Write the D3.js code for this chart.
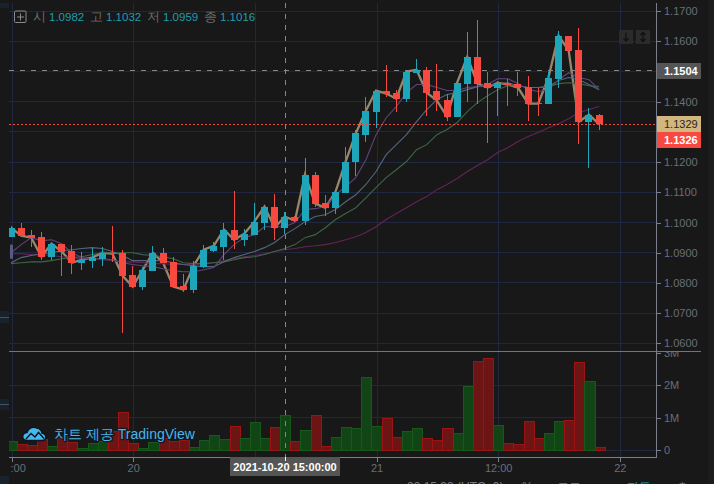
<!DOCTYPE html>
<html><head><meta charset="utf-8">
<style>
html,body{margin:0;padding:0;background:#181818;overflow:hidden}
svg{display:block}
text{font-family:"Liberation Sans",Arial,sans-serif}
</style>
<script src="https://cdn.jsdelivr.net/npm/d3@7/dist/d3.min.js"></script>
</head><body><svg id="c" width="714" height="484"></svg>
<script>
const opens=[1.0953,1.0983,1.0960,1.0953,1.0887,1.0930,1.0907,1.0867,1.0874,1.0880,1.0900,1.0900,1.0827,1.0788,1.0841,1.0900,1.0870,1.0791,1.0778,1.0854,1.0907,1.0920,1.0977,1.0943,1.0960,1.1000,1.1053,1.0983,1.1020,1.1006,1.1159,1.1066,1.1049,1.1099,1.1198,1.1291,1.1367,1.1437,1.1430,1.1410,1.1496,1.1506,1.1434,1.1407,1.1351,1.1460,1.1549,1.1463,1.1447,1.1463,1.1460,1.1450,1.1397,1.1394,1.1476,1.1619,1.1572,1.1334,1.1357];
const highs=[1.0990,1.1000,1.0977,1.0970,1.0930,1.0930,1.0927,1.0904,1.0917,1.0920,1.0987,1.0910,1.0857,1.0854,1.0923,1.0917,1.0887,1.0831,1.0874,1.0927,1.0937,1.1000,1.1106,1.0980,1.1066,1.1053,1.1096,1.1036,1.1023,1.1215,1.1169,1.1092,1.1102,1.1251,1.1308,1.1417,1.1437,1.1520,1.1440,1.1500,1.1543,1.1516,1.1526,1.1427,1.1463,1.1632,1.1672,1.1500,1.1470,1.1476,1.1500,1.1486,1.1447,1.1500,1.1635,1.1619,1.1645,1.1380,1.1361];
const lows=[1.0953,1.0953,1.0920,1.0877,1.0877,1.0824,1.0831,1.0844,1.0851,1.0857,1.0870,1.0636,1.0788,1.0778,1.0841,1.0867,1.0788,1.0771,1.0768,1.0851,1.0904,1.0877,1.0914,1.0923,1.0960,1.0977,1.0943,1.0963,1.1003,1.0993,1.1053,1.1023,1.1030,1.1099,1.1155,1.1268,1.1314,1.1414,1.1367,1.1400,1.1496,1.1354,1.1370,1.1337,1.1351,1.1400,1.1394,1.1265,1.1354,1.1387,1.1420,1.1337,1.1354,1.1394,1.1447,1.1569,1.1261,1.1179,1.1308];
const closes=[1.0983,1.0957,1.0950,1.0887,1.0930,1.0904,1.0867,1.0877,1.0884,1.0900,1.0897,1.0824,1.0788,1.0844,1.0900,1.0867,1.0788,1.0778,1.0857,1.0910,1.0923,1.0977,1.0943,1.0963,1.1003,1.1053,1.0983,1.1020,1.1006,1.1159,1.1063,1.1049,1.1102,1.1202,1.1295,1.1370,1.1437,1.1427,1.1410,1.1500,1.1506,1.1430,1.1404,1.1351,1.1463,1.1549,1.1460,1.1447,1.1463,1.1457,1.1447,1.1394,1.1394,1.1480,1.1619,1.1569,1.1334,1.1357,1.1326];
const volumes=[0.30,0.19,0.16,0.35,0.13,0.45,0.27,0.07,0.23,0.29,0.59,1.19,0.23,0.07,0.26,0.37,0.29,0.33,0.10,0.32,0.47,0.35,0.76,0.38,0.87,0.38,0.72,1.09,0.29,0.63,1.09,0.13,0.41,0.72,0.69,2.26,0.75,1.00,0.41,0.59,0.69,0.38,0.32,0.69,0.53,1.98,2.75,2.84,0.78,0.23,0.19,0.90,0.38,0.53,0.90,0.93,2.72,2.13,0.10];
const maPurple=[1.0900,1.0927,1.0950,1.0940,1.0943,1.0930,1.0900,1.0884,1.0880,1.0880,1.0877,1.0867,1.0861,1.0857,1.0854,1.0847,1.0841,1.0837,1.0837,1.0844,1.0851,1.0894,1.0927,1.0950,1.0960,1.0986,1.0986,1.0986,1.1000,1.1043,1.1046,1.1053,1.1092,1.1119,1.1149,1.1208,1.1291,1.1347,1.1384,1.1430,1.1457,1.1457,1.1447,1.1437,1.1437,1.1447,1.1450,1.1457,1.1476,1.1476,1.1460,1.1440,1.1434,1.1440,1.1473,1.1496,1.1480,1.1473,1.1440];
const maSlate=[1.0867,1.0884,1.0891,1.0897,1.0900,1.0907,1.0910,1.0914,1.0917,1.0914,1.0904,1.0891,1.0874,1.0874,1.0874,1.0874,1.0867,1.0861,1.0857,1.0854,1.0854,1.0870,1.0884,1.0894,1.0904,1.0917,1.0934,1.0960,1.0980,1.1003,1.1020,1.1026,1.1043,1.1069,1.1092,1.1126,1.1169,1.1225,1.1258,1.1291,1.1334,1.1374,1.1407,1.1424,1.1430,1.1440,1.1450,1.1453,1.1460,1.1463,1.1453,1.1447,1.1447,1.1450,1.1470,1.1480,1.1473,1.1457,1.1440];
const maGreen=[1.0864,1.0867,1.0870,1.0870,1.0874,1.0880,1.0884,1.0887,1.0894,1.0900,1.0900,1.0900,1.0900,1.0894,1.0891,1.0887,1.0880,1.0867,1.0864,1.0864,1.0867,1.0870,1.0877,1.0884,1.0887,1.0894,1.0904,1.0914,1.0927,1.0950,1.0960,1.0983,1.1010,1.1030,1.1049,1.1082,1.1116,1.1149,1.1175,1.1202,1.1241,1.1258,1.1291,1.1308,1.1331,1.1367,1.1397,1.1420,1.1440,1.1453,1.1453,1.1447,1.1447,1.1450,1.1460,1.1463,1.1460,1.1453,1.1450];
const maMaroon=[1.0897,1.0897,1.0894,1.0894,1.0891,1.0887,1.0884,1.0880,1.0880,1.0877,1.0874,1.0870,1.0870,1.0867,1.0864,1.0864,1.0861,1.0861,1.0861,1.0864,1.0867,1.0874,1.0880,1.0887,1.0891,1.0897,1.0904,1.0910,1.0914,1.0920,1.0923,1.0927,1.0934,1.0943,1.0953,1.0967,1.0986,1.1010,1.1030,1.1049,1.1069,1.1086,1.1109,1.1126,1.1146,1.1169,1.1189,1.1208,1.1232,1.1248,1.1268,1.1285,1.1298,1.1314,1.1327,1.1344,1.1364,1.1374,1.1384];
const priceTicks=[1.06,1.07,1.08,1.09,1.10,1.11,1.12,1.13,1.14,1.15,1.16,1.17];
const priceLabelsHidden=[1.13,1.15];
const volumeTicks=[0,1,2,3];
const timeTickIdx=[0,12,24,36,48,60];
const timeTickLabels=["12:00","20","","21","12:00","22"];
const legendLabels=["시","고","저","종"];
const legendValues=["1.0982","1.1032","1.0959","1.1016"];
const crossPrice=1.1504, crossIdx=27, crossDate="2021-10-20 15:00:00";
const tanPrice=1.1329, lastPrice=1.1326;
const maStart=[1.0923,1.0884];

const TEAL="#1fa5b9",RED="#f7493f",GRID="#1f2840",AXIS="#7b7f8c";
const svg=d3.select("#c");
const x=d3.scaleLinear().domain([0,58]).range([11.5,599.6]);
const y=d3.scaleLinear().domain([1.06,1.17]).range([343.4,11.1]);
const v=d3.scaleLinear().domain([0,3]).range([450.4,352.9]);
const px=i=>Math.round(x(i))+0.5;
const cpx=i=>px(i)-1;
const row=p=>Math.floor(p)+.5;
const idx=d3.range(opens.length);

svg.append("rect").attr("width",714).attr("height",484).attr("fill","#181818");
svg.append("rect").attr("x",708).attr("width",6).attr("height",484).attr("fill","#1c1c1c");
[[3,5],[311,12],[399,11],[476,8]].forEach(b=>svg.append("rect").attr("x",0).attr("y",b[0]).attr("width",9).attr("height",b[1]).attr("fill","#18222c"));
[317,404].forEach(t=>svg.append("rect").attr("x",0).attr("y",t).attr("width",9).attr("height",1).attr("fill","#4a535c"));

const defs=svg.append("defs");
defs.append("clipPath").attr("id","main").append("rect").attr("x",9).attr("y",3).attr("width",648).attr("height",348);
defs.append("clipPath").attr("id","vol").append("rect").attr("x",9).attr("y",352).attr("width",648).attr("height",105);
defs.append("clipPath").attr("id","tt").append("rect").attr("x",10).attr("y",458).attr("width",660).attr("height",26);
defs.append("clipPath").attr("id","vt").append("rect").attr("x",657).attr("y",352).attr("width",50).attr("height",105);

// grid
const grid=svg.append("g").attr("shape-rendering","crispEdges");
grid.selectAll(".h").data(priceTicks).join("line").attr("x1",9).attr("x2",657).attr("y1",d=>row(y(d))).attr("y2",d=>row(y(d))).attr("stroke",GRID);
grid.selectAll(".hv").data(volumeTicks.slice(0,3)).join("line").attr("x1",9).attr("x2",657).attr("y1",d=>row(v(d))).attr("y2",d=>row(v(d))).attr("stroke",GRID);
grid.selectAll(".v").data(timeTickIdx).join("line").attr("x1",d=>px(d)).attr("x2",d=>px(d)).attr("y1",3).attr("y2",457).attr("stroke",GRID);

const main=svg.append("g").attr("clip-path","url(#main)");
const line=d3.line().x((d,i)=>x(i)-.5).y(d=>y(d));

main.append("line").attr("x1",9).attr("x2",657).attr("y1",row(y(crossPrice))).attr("y2",row(y(crossPrice))).attr("stroke","#85888f").attr("stroke-dasharray","5 6").attr("shape-rendering","crispEdges");

main.append("path").datum(closes).attr("d",line).attr("fill","none").attr("stroke","#97876c").attr("stroke-width",2.3);
[[maMaroon,"#642458"],[maGreen,"#3c6644"],[maSlate,"#55677e"],[maPurple,"#60447c"]].forEach(s=>{
  main.append("path").datum(s[0]).attr("d",line).attr("fill","none").attr("stroke",s[1]).attr("stroke-width",1.1);
});
main.append("line").attr("x1",x(0)).attr("x2",x(0)).attr("y1",y(maStart[0])).attr("y2",y(maStart[1])).attr("stroke","#565b82").attr("stroke-width",3).attr("stroke-linecap","round");

const candles=main.append("g").attr("shape-rendering","crispEdges");
candles.selectAll(".w").data(idx).join("line")
 .attr("x1",cpx).attr("x2",cpx).attr("y1",i=>y(highs[i])).attr("y2",i=>y(lows[i]))
 .attr("stroke",i=>closes[i]>=opens[i]?TEAL:RED);
candles.selectAll(".b").data(idx).join("rect")
 .attr("x",i=>cpx(i)-3.5).attr("width",7)
 .attr("y",i=>Math.round(y(Math.max(opens[i],closes[i]))))
 .attr("height",i=>Math.max(1,Math.round(Math.abs(y(opens[i])-y(closes[i])))))
 .attr("fill",i=>closes[i]>=opens[i]?TEAL:RED);

main.append("line").attr("x1",9).attr("x2",657).attr("y1",row(y(lastPrice))).attr("y2",row(y(lastPrice))).attr("stroke","#f7493f").attr("stroke-dasharray","2 2").attr("shape-rendering","crispEdges");

const step=x(1)-x(0);
const volG=svg.append("g").attr("clip-path","url(#vol)").attr("shape-rendering","crispEdges");
volG.selectAll("rect").data(idx).join("rect")
 .attr("x",i=>Math.round(x(i)-step/2)+.5).attr("width",i=>Math.round(x(i)+step/2)-Math.round(x(i)-step/2))
 .attr("y",i=>Math.round(v(volumes[i]))+.5).attr("height",i=>Math.round(v(0))-Math.round(v(volumes[i])))
 .attr("fill",i=>closes[i]>=opens[i]?"#114515":"#6d1414")
 .attr("stroke",i=>closes[i]>=opens[i]?"#17581b":"#9a1414");

svg.append("line").attr("x1",px(crossIdx)).attr("x2",px(crossIdx)).attr("y1",3).attr("y2",457).attr("stroke","#85888f").attr("stroke-dasharray","5 6").attr("shape-rendering","crispEdges");

const seps=svg.append("g").attr("shape-rendering","crispEdges");
seps.append("line").attr("x1",9).attr("x2",701).attr("y1",351.5).attr("y2",351.5).attr("stroke","#6f7482");
seps.append("line").attr("x1",9).attr("x2",657).attr("y1",457.5).attr("y2",457.5).attr("stroke",AXIS);
seps.append("line").attr("x1",656.5).attr("x2",656.5).attr("y1",3).attr("y2",457.5).attr("stroke",AXIS);

function styleAxis(g){
  g.select(".domain").remove();
  g.selectAll("line").attr("stroke",AXIS).attr("shape-rendering","crispEdges");
  g.selectAll("text").attr("fill","#696e79").attr("font-size",11).attr("font-family",'"Liberation Sans",Arial,sans-serif').attr("font-weight",400);
}
svg.append("g").attr("transform","translate(656.5,0)")
 .call(d3.axisRight(y).tickValues(priceTicks).tickFormat(d=>priceLabelsHidden.includes(d)?"":d3.format(".4f")(d)).tickSize(4).tickPadding(3.5)).call(styleAxis);
svg.append("g").attr("clip-path","url(#vt)").append("g").attr("transform","translate(656.5,0)")
 .call(d3.axisRight(v).tickValues(volumeTicks).tickFormat(d=>d===0?"0":d+"M").tickSize(4).tickPadding(3.5)).call(styleAxis);
svg.append("g").attr("clip-path","url(#tt)").append("g").attr("transform","translate(0,457.5)")
 .call(d3.axisBottom(x).tickValues(timeTickIdx).tickFormat((d,i)=>timeTickLabels[i]).tickSize(4).tickPadding(2.5)).call(styleAxis);

function priceBox(val,fill,txt,bold,yc){
  svg.append("rect").attr("x",657).attr("y",yc-8).attr("width",44).attr("height",16).attr("fill",fill);
  svg.append("text").attr("x",664).attr("y",yc+4).attr("fill",txt).attr("font-size",11).attr("font-weight",bold?700:400).text(val);
}
priceBox(crossPrice.toFixed(4),"#555555","#ffffff",true,71);
priceBox(tanPrice.toFixed(4),"#d2b67f","#2b2618",false,124);
priceBox(lastPrice.toFixed(4),"#f7493f","#ffffff",true,140);

const cx=px(crossIdx);
svg.append("rect").attr("x",230).attr("y",457).attr("width",110).attr("height",19).attr("fill","#555555");
svg.append("rect").attr("x",cx-.5).attr("y",457).attr("width",1).attr("height",4).attr("fill","#fff");
svg.append("text").attr("x",285).attr("y",471).attr("text-anchor","middle").attr("fill","#fff").attr("font-size",11).attr("font-weight",700).text(crossDate);

svg.append("rect").attr("x",14.5).attr("y",11).attr("width",11.5).attr("height",11.5).attr("rx",1).attr("fill","none").attr("stroke","#8b8b8b");
svg.append("path").attr("d","M20.5 13.5V20.5M17 17H24").attr("stroke","#8b8b8b").attr("fill","none");
const lx=[33,90,147,204], vx=[49,106,163,220];
legendLabels.forEach((t,i)=>{
  svg.append("text").attr("x",lx[i]).attr("y",21).attr("fill","#6d6d6d").attr("font-size",13).attr("font-family",'"Noto Sans CJK KR"').text(t);
  svg.append("text").attr("x",vx[i]).attr("y",21).attr("fill","#1f9db0").attr("font-size",11.5).text(legendValues[i]);
});

[619,636].forEach((bx,k)=>{
  svg.append("rect").attr("x",bx).attr("y",30).attr("width",14).attr("height",14).attr("fill","#2b2b2b");
  const c=bx+7;
  svg.append("path").attr("d",k===0?`M${c} 32.5V41M${c-2.5} 38.5L${c} 41L${c+2.5} 38.5`:`M${c} 32.5V41.5M${c-2.5} 35L${c} 32.5L${c+2.5} 35M${c-2.5} 39L${c} 41.5L${c+2.5} 39`).attr("fill","none").attr("stroke","#111").attr("stroke-width",1.3);
});

const wm=svg.append("g");
wm.append("path").attr("d","M24 439.5C21 437 23 432.5 27 432.5C28 428 33 426 37 428C40 428.5 42 431 42 433C45.5 433.5 47 437 45 439.5C44.5 440.3 43.5 440.6 42 440.6H27C25.5 440.6 24.5 440.3 24 439.5Z")
 .attr("fill","#48b7ee").attr("stroke","#0e1620").attr("stroke-width",1.6);
wm.append("path").attr("d","M26 439L31 433.5L35 437L38.5 432.5L44 438.5").attr("fill","none").attr("stroke","#0e1620").attr("stroke-width",1.5);
wm.append("text").attr("x",54).attr("y",439).attr("font-size",14).attr("font-family",'"Noto Sans CJK KR"')
 .attr("fill","#4fb3e3").attr("stroke","#111a22").attr("stroke-width",2.4).attr("paint-order","stroke").attr("stroke-linejoin","round").text("차트 제공 TradingView");

[["22:15:33 (UTC+9)",407,"#777b86"],["%",522,"#777b86"],["로그",557,"#777b86"],["자동",627,"#1fa5b9"],["⚙",677,"#777b86"]].forEach(f=>{
  svg.append("text").attr("x",f[1]).attr("y",491).attr("font-size",12).attr("font-family",'"Noto Sans CJK KR","DejaVu Sans"').attr("fill",f[2]).text(f[0]);
});
</script></body></html>
